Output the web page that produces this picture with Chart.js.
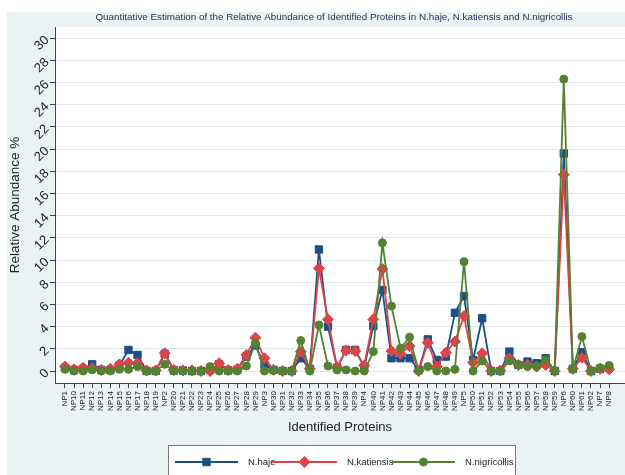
<!DOCTYPE html>
<html><head><meta charset="utf-8">
<script src="https://cdn.jsdelivr.net/npm/chart.js@4.4.1/dist/chart.umd.min.js"></script>
<style>html,body{margin:0;padding:0;background:#fff}#wrap{width:625px;height:475px}</style>
</head><body><div id="wrap"><canvas id="c" width="625" height="475"></canvas></div>
<script>
const categories = ['NP1','NP10','NP11','NP12','NP13','NP14','NP15','NP16','NP17','NP18','NP19',
  'NP2','NP20','NP21','NP22','NP23','NP24','NP25','NP26','NP27','NP28','NP29',
  'NP3','NP30','NP31','NP32','NP33','NP34','NP35','NP36','NP37','NP38','NP39',
  'NP4','NP40','NP41','NP42','NP43','NP44','NP45','NP46','NP47','NP48','NP49',
  'NP5','NP50','NP51','NP52','NP53','NP54','NP55','NP56','NP57','NP58','NP59',
  'NP6','NP60','NP61','NP62','NP7','NP8'];
const nHaje = [0.3,0.1,0.2,0.6,0.1,0.1,0.5,1.9,1.45,0.0,0.0,
  1.55,0.05,0.05,0.0,0.0,0.1,0.6,0.05,0.1,1.3,2.3,
  0.55,0.1,0.0,0.0,1.15,0.2,10.95,4.0,0.3,1.9,1.9,
  0.35,4.05,7.3,1.15,1.15,1.15,0.1,2.85,1.0,1.3,5.25,
  6.75,1.0,4.75,0.0,0.0,1.75,0.55,0.85,0.7,1.15,0.0,
  19.6,0.2,1.7,0.0,0.2,0.3];
const nKatiensis = [0.4,0.15,0.3,0.25,0.1,0.2,0.6,0.75,0.7,0.05,0.05,
  1.6,0.1,0.05,0.05,0.0,0.0,0.7,0.1,0.2,1.45,3.0,
  1.15,0.1,0.0,0.0,1.75,0.2,9.25,4.65,0.35,1.85,1.8,
  0.5,4.65,9.2,1.8,1.55,2.25,0.0,2.55,0.4,1.65,2.65,
  4.95,0.75,1.6,0.0,0.05,1.15,0.55,0.55,0.4,0.55,0.0,
  17.7,0.2,1.2,0.0,0.2,0.15];
const nNigricollis = [0.15,0.0,0.0,0.1,0.0,0.0,0.15,0.15,0.4,0.0,0.0,
  0.6,0.0,0.0,0.0,0.0,0.4,0.0,0.0,0.0,0.45,2.5,
  0.0,0.05,0.0,0.0,2.75,0.0,4.15,0.45,0.1,0.1,0.0,
  0.0,1.75,11.55,5.85,2.05,3.05,0.0,0.4,0.0,0.0,0.15,
  9.85,0.0,0.9,0.0,0.0,0.9,0.55,0.4,0.4,1.0,0.0,
  26.3,0.15,3.1,0.0,0.3,0.5];
const yTickValues = [0,2,4,6,8,10,12,14,16,18,20,22,24,26,28,30];
const seriesNames = ['N.haje','N.katiensis','N.nigricollis'];
const chartTitle = 'Quantitative Estimation of the Relative Abundance of Identified Proteins in N.haje, N.katiensis and N.nigricollis';
const xTitle = 'Identified Proteins';
const yTitle = 'Relative Abundance %';

const BLUE = '#1b4f85', RED = '#dc4448', GREEN = '#55822f';
const FONT = "'Liberation Sans', Arial, sans-serif";
const toPts = arr => arr.map((v, i) => ({x: i, y: v}));

const bgPlugin = {
  id: 'bg',
  beforeDraw(chart) {
    const {ctx, chartArea: a} = chart;
    ctx.save();
    ctx.fillStyle = '#ffffff';
    ctx.fillRect(0, 0, chart.width, chart.height);
    ctx.fillStyle = '#eaf2f3';
    ctx.fillRect(7, 12, chart.width - 7, chart.height - 12);
    ctx.fillStyle = '#ffffff';
    ctx.fillRect(a.left, a.top, a.right - a.left, a.bottom - a.top);
    ctx.restore();
  },
  afterDraw(chart) {
    const ctx = chart.ctx;
    ctx.save();
    ctx.font = '9.8px ' + FONT;
    ctx.fillStyle = '#1e3560';
    ctx.textAlign = 'center';
    ctx.textBaseline = 'middle';
    ctx.fillText(chartTitle, 334, 17);
    ctx.fillStyle = '#ffffff';
    ctx.fillRect(168.5, 445.5, 347, 40);
    ctx.strokeStyle = '#7a7a7a';
    ctx.lineWidth = 1;
    ctx.strokeRect(168.5, 445.5, 347, 40);
    const ly = 462;
    const items = [
      {x0: 175, x1: 238, text: 248, color: BLUE, style: 'rect', r: 5.2},
      {x0: 272, x1: 337, text: 347, color: RED, style: 'rectRot', r: 5.5},
      {x0: 392, x1: 455, text: 465, color: GREEN, style: 'circle', r: 4}
    ];
    items.forEach((it, i) => {
      ctx.strokeStyle = it.color;
      ctx.fillStyle = it.color;
      ctx.lineWidth = 1.8;
      ctx.beginPath();
      ctx.moveTo(it.x0, ly);
      ctx.lineTo(it.x1, ly);
      ctx.stroke();
      ctx.lineWidth = 1;
      Chart.helpers.drawPoint(ctx, {pointStyle: it.style, radius: it.r, rotation: 0, borderWidth: 1}, (it.x0 + it.x1) / 2, ly);
      ctx.font = '9.5px ' + FONT;
      ctx.fillStyle = '#222222';
      ctx.textAlign = 'left';
      ctx.textBaseline = 'middle';
      ctx.fillText(seriesNames[i], it.text, ly);
    });
    ctx.restore();
  }
};

new Chart(document.getElementById('c'), {
  type: 'line',
  data: {
    datasets: [
      {label: seriesNames[0], data: toPts(nHaje), borderColor: BLUE, backgroundColor: BLUE,
       pointStyle: 'rect', pointRadius: 5.2, pointBorderWidth: 1, borderWidth: 1.8, order: 3},
      {label: seriesNames[1], data: toPts(nKatiensis), borderColor: RED, backgroundColor: RED,
       pointStyle: 'rectRot', pointRadius: 5.5, pointBorderWidth: 1, borderWidth: 1.8, order: 2},
      {label: seriesNames[2], data: toPts(nNigricollis), borderColor: GREEN, backgroundColor: GREEN,
       pointStyle: 'circle', pointRadius: 4, pointBorderWidth: 1, borderWidth: 1.8, order: 1}
    ]
  },
  options: {
    responsive: false,
    animation: false,
    devicePixelRatio: 1,
    layout: {autoPadding: false, padding: {top: 27, right: 0, bottom: 30, left: 0}},
    elements: {line: {tension: 0}},
    plugins: {legend: {display: false}, title: {display: false}, tooltip: {enabled: false}},
    scales: {
      x: {
        type: 'linear',
        min: -1.1, max: 61.75,
        afterBuildTicks: s => { s.ticks = categories.map((c, i) => ({value: i})); },
        afterFit: s => { s.height = 62; s.paddingLeft = 0; s.paddingRight = 0; },
        ticks: {
          autoSkip: false, minRotation: 90, maxRotation: 90, padding: 3,
          font: {family: FONT, size: 8}, color: '#222',
          callback: v => categories[v]
        },
        grid: {drawOnChartArea: false, drawTicks: true, tickLength: 5, tickColor: '#444'},
        border: {color: '#444', width: 1},
        title: {display: true, text: xTitle, font: {family: FONT, size: 13}, color: '#222', padding: {top: 0, bottom: 10}}
      },
      y: {
        type: 'linear',
        min: -1.08, max: 31.0,
        afterBuildTicks: s => { s.ticks = yTickValues.map(v => ({value: v})); },
        afterFit: s => { s.width = 55; s.paddingTop = 0; s.paddingBottom = 0; },
        ticks: {
          autoSkip: false, minRotation: 45, maxRotation: 45, padding: 3,
          font: {family: FONT, size: 13}, color: '#222'
        },
        grid: {color: '#dde8ee', lineWidth: 1, drawTicks: true, tickLength: 5, tickColor: '#444'},
        border: {color: '#444', width: 1},
        title: {display: true, text: yTitle, font: {family: FONT, size: 13.5}, color: '#222', padding: {top: 7, bottom: 0}}
      }
    }
  },
  plugins: [bgPlugin]
});
</script>
</body></html>
